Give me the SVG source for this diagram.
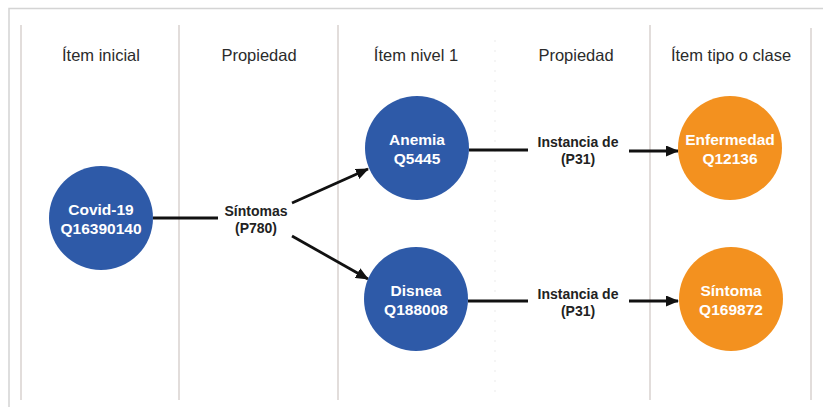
<svg xmlns="http://www.w3.org/2000/svg" width="823" height="407" viewBox="0 0 823 407">
  <style>
    .frame { fill: none; stroke: #d4d4d4; stroke-width: 1.5; }
    .col { stroke: #d8d2cf; stroke-width: 1.5; }
    .guide { stroke: #ebebeb; stroke-width: 1; stroke-dasharray: 2 8; }
    .head { font-family: "Liberation Sans", Arial, sans-serif; font-size: 16.5px; fill: #2b2b2b; text-anchor: middle; }
    .blue { fill: #2e5aa8; }
    .orange { fill: #f3911f; }
    .ntext { font-family: "Liberation Sans", Arial, sans-serif; font-size: 15.5px; font-weight: bold; fill: #ffffff; text-anchor: middle; }
    .lbl { font-family: "Liberation Sans", Arial, sans-serif; font-size: 14px; font-weight: bold; fill: #222222; text-anchor: middle; }
    .edge { stroke: #111111; stroke-width: 2.8; fill: none; }
  </style>
  <defs>
    <marker id="arrow" viewBox="0 0 13 11" refX="12" refY="5.5" markerWidth="13" markerHeight="11" markerUnits="userSpaceOnUse" orient="auto">
      <path d="M0,0 L13,5.5 L0,11 Z" fill="#111111"/>
    </marker>
  </defs>

  <rect width="823" height="407" fill="#ffffff"/>

  <!-- outer frame -->
  <path class="frame" d="M9,407 V8.5 H823"/>

  <!-- column dividers -->
  <g id="columns">
    <line class="col" x1="21" y1="25" x2="21" y2="400"/>
    <line class="col" x1="179" y1="25" x2="179" y2="400"/>
    <line class="col" x1="338" y1="25" x2="338" y2="400"/>
    <line class="col" x1="650" y1="25" x2="650" y2="400"/>
    <line class="col" x1="811" y1="28" x2="811" y2="400"/>
    <line class="guide" x1="495" y1="40" x2="495" y2="395"/>
  </g>

  <!-- column headers -->
  <g id="headers">
    <text class="head" x="101" y="61">Ítem inicial</text>
    <text class="head" x="259" y="61">Propiedad</text>
    <text class="head" x="416" y="61">Ítem nivel 1</text>
    <text class="head" x="576" y="61">Propiedad</text>
    <text class="head" x="731" y="61">Ítem tipo o clase</text>
  </g>

  <!-- connectors -->
  <g id="connectors">
    <line class="edge" x1="153" y1="218" x2="218" y2="218"/>
    <text class="lbl" x="256" y="216">Síntomas</text>
    <text class="lbl" x="256" y="233">(P780)</text>
    <line class="edge" x1="292" y1="203" x2="368" y2="169" marker-end="url(#arrow)"/>
    <line class="edge" x1="292" y1="236" x2="368" y2="279" marker-end="url(#arrow)"/>

    <line class="edge" x1="469" y1="150" x2="528" y2="150"/>
    <text class="lbl" x="578" y="147">Instancia de</text>
    <text class="lbl" x="578" y="164">(P31)</text>
    <line class="edge" x1="629" y1="151" x2="678" y2="151" marker-end="url(#arrow)"/>

    <line class="edge" x1="468" y1="301" x2="528" y2="301"/>
    <text class="lbl" x="578" y="299">Instancia de</text>
    <text class="lbl" x="578" y="316">(P31)</text>
    <line class="edge" x1="629" y1="301" x2="678" y2="301" marker-end="url(#arrow)"/>
  </g>

  <!-- nodes -->
  <g id="covid19">
    <circle class="blue" cx="101" cy="218" r="52"/>
    <text class="ntext" x="101" y="215">Covid-19</text>
    <text class="ntext" x="101" y="234">Q16390140</text>
  </g>
  <g id="anemia">
    <circle class="blue" cx="417" cy="148" r="52"/>
    <text class="ntext" x="417" y="145">Anemia</text>
    <text class="ntext" x="417" y="164">Q5445</text>
  </g>
  <g id="disnea">
    <circle class="blue" cx="416" cy="299" r="52"/>
    <text class="ntext" x="416" y="296">Disnea</text>
    <text class="ntext" x="416" y="315">Q188008</text>
  </g>
  <g id="enfermedad">
    <circle class="orange" cx="730" cy="148" r="52"/>
    <text class="ntext" x="730" y="145">Enfermedad</text>
    <text class="ntext" x="730" y="164">Q12136</text>
  </g>
  <g id="sintoma">
    <circle class="orange" cx="731" cy="299" r="52"/>
    <text class="ntext" x="731" y="296">Síntoma</text>
    <text class="ntext" x="731" y="315">Q169872</text>
  </g>
</svg>
